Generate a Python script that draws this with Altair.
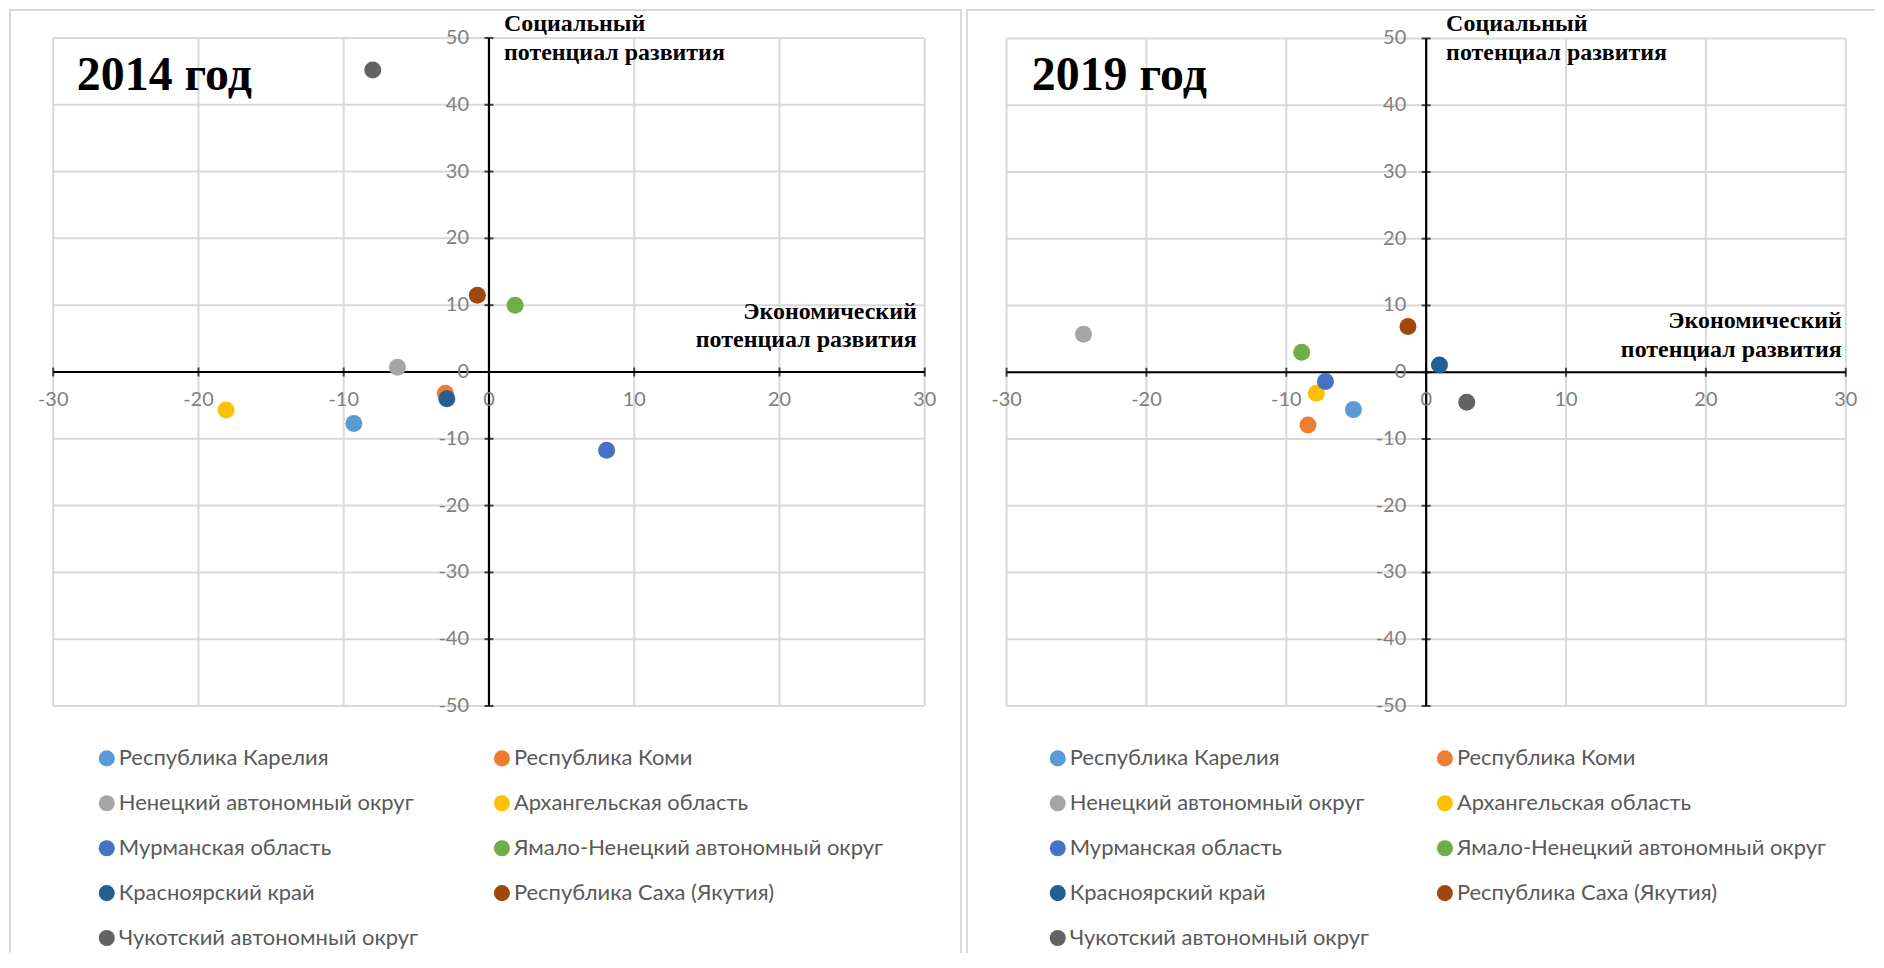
import altair as alt
import pandas as pd

regions = [
    "Республика Карелия",
    "Республика Коми",
    "Ненецкий автономный округ",
    "Архангельская область",
    "Мурманская область",
    "Ямало-Ненецкий автономный округ",
    "Красноярский край",
    "Республика Саха (Якутия)",
    "Чукотский автономный округ",
]
colors = ["#5B9BD5", "#ED7D31", "#A5A5A5", "#FFC000", "#4472C4",
          "#70AD47", "#255E91", "#9E480E", "#636363"]

econ_2014 = [-9.3, -3.0, -6.3, -18.1, 8.1, 1.8, -2.9, -0.8, -8.0]
soc_2014 = [-7.7, -3.2, 0.7, -5.7, -11.7, 10.0, -4.0, 11.5, 45.2]
econ_2019 = [-5.2, -8.45, -24.5, -7.85, -7.2, -8.9, 0.95, -1.3, 2.9]
soc_2019 = [-5.6, -7.9, 5.7, -3.15, -1.4, 3.0, 1.1, 6.85, -4.5]

x_ticks = [-30, -20, -10, 0, 10, 20, 30]
y_ticks = [-50, -40, -30, -20, -10, 0, 10, 20, 30, 40, 50]

H = 945
GRID = "#d9d9d9"
LABEL_FONT = "Lato"
SERIF = "Liberation Serif"


def panel(title, ex, so, W, x_rng, y_rng, title_x, leg_x, col_pad,
          soc_dx, econ_dx, econ_dys, right_edge):
    xs = alt.Scale(domain=[-30, 30], range=x_rng, nice=False, zero=False)
    ys = alt.Scale(domain=[-50, 50], range=y_rng, nice=False, zero=False)

    def X(f):
        return alt.X(f, type="quantitative", scale=xs, axis=None)

    def Y(f):
        return alt.Y(f, type="quantitative", scale=ys, axis=None)

    gx = pd.DataFrame({"t": x_ticks, "lbl": [str(v) for v in x_ticks],
                       "lo": -50, "hi": 50, "z": 0})
    gy = pd.DataFrame({"t": y_ticks, "lbl": [str(v) for v in y_ticks],
                       "lo": -30, "hi": 30, "z": 0})
    one = pd.DataFrame({"z": [0], "ylo": [-50], "yhi": [50], "xlo": [-30], "xhi": [30]})

    layers = []
    # frame
    frame = alt.Chart(one).mark_rule(color=GRID, strokeWidth=2)
    layers.append(frame.encode(x=alt.value(1), y=alt.value(0), y2=alt.value(H)))
    layers.append(frame.encode(x=alt.value(0), x2=alt.value(W), y=alt.value(0)))
    if right_edge:
        layers.append(frame.encode(x=alt.value(W - 1), y=alt.value(0), y2=alt.value(H)))

    # gridlines
    layers.append(alt.Chart(gx).mark_rule(color=GRID, strokeWidth=2).encode(
        x=X("t"), y=Y("lo"), y2="hi"))
    layers.append(alt.Chart(gy).mark_rule(color=GRID, strokeWidth=2).encode(
        y=Y("t"), x=X("lo"), x2="hi"))

    # axis lines
    layers.append(alt.Chart(one).mark_rule(color="black", strokeWidth=2.2).encode(
        x=X("z"), y=Y("ylo"), y2="yhi"))
    layers.append(alt.Chart(one).mark_rule(color="black", strokeWidth=2.2).encode(
        y=Y("z"), x=X("xlo"), x2="xhi"))

    # tick marks
    layers.append(alt.Chart(gx).mark_tick(color="black", orient="vertical",
                                          size=9, thickness=2).encode(
        x=X("t"), y=Y("z")))
    layers.append(alt.Chart(gy).mark_tick(color="black", orient="horizontal",
                                          size=9, thickness=2).encode(
        y=Y("t"), x=X("z")))

    # tick labels
    layers.append(alt.Chart(gx).mark_text(font=LABEL_FONT, fontSize=20, color="#808080",
                                          align="center", baseline="middle", dy=28).encode(
        x=X("t"), y=Y("z"), text="lbl:N"))
    layers.append(alt.Chart(gy).mark_text(font=LABEL_FONT, fontSize=20, color="#808080",
                                          align="right", baseline="middle", dx=-20).encode(
        y=Y("t"), x=X("z"), text="lbl:N"))

    # points
    pts = pd.DataFrame({"region": regions, "econ": ex, "soc": so})
    layers.append(alt.Chart(pts).mark_circle(size=290, opacity=1).encode(
        x=X("econ"), y=Y("soc"),
        color=alt.Color("region:N",
                        scale=alt.Scale(domain=regions, range=colors),
                        legend=alt.Legend(
                            title=None, orient="none", legendX=leg_x, legendY=739,
                            direction="horizontal",
                            columns=2, columnPadding=col_pad, rowPadding=23,
                            labelFont=LABEL_FONT, labelFontSize=22,
                            labelColor="#595959", symbolType="circle",
                            symbolSize=260, symbolStrokeWidth=0,
                            labelOffset=1, labelLimit=500, padding=0)),
    ))

    # annotations
    tdf = pd.DataFrame({"t": [title]})
    layers.append(alt.Chart(tdf).mark_text(font=SERIF, fontSize=48, fontWeight="bold",
                                           color="black", align="left",
                                           baseline="alphabetic").encode(
        x=alt.value(title_x), y=alt.value(80), text="t:N"))

    s1 = pd.DataFrame({"t": ["Социальный"], "x": [0], "y": [50]})
    s2 = pd.DataFrame({"t": ["потенциал развития"], "x": [0], "y": [50]})
    e1 = pd.DataFrame({"t": ["Экономический"], "x": [30], "y": [0]})
    e2 = pd.DataFrame({"t": ["потенциал развития"], "x": [30], "y": [0]})
    common = dict(font=SERIF, fontSize=24, fontWeight="bold", color="black",
                  baseline="middle")
    layers.append(alt.Chart(s1).mark_text(align="left", dx=soc_dx, dy=-14, **common).encode(
        x=X("x"), y=Y("y"), text="t:N"))
    layers.append(alt.Chart(s2).mark_text(align="left", dx=soc_dx, dy=15, **common).encode(
        x=X("x"), y=Y("y"), text="t:N"))
    layers.append(alt.Chart(e1).mark_text(align="right", dx=econ_dx, dy=econ_dys[0], **common).encode(
        x=X("x"), y=Y("y"), text="t:N"))
    layers.append(alt.Chart(e2).mark_text(align="right", dx=econ_dx, dy=econ_dys[1], **common).encode(
        x=X("x"), y=Y("y"), text="t:N"))

    return alt.layer(*layers).properties(width=W, height=H)


W1 = 955
W2 = 911
left = panel("2014 год", econ_2014, soc_2014, W1,
             [44.3, 917.7], [697.5, 28], 68, 87, 72,
             15, -8, (-60, -32), True)
right = panel("2019 год", econ_2019, soc_2019, W2,
              [40.7, 881.7], [697.5, 28.5], 66, 81, 64,
              20, -4, (-51, -22), False)

chart = alt.hconcat(left, right, spacing=2).resolve_scale(
    color="independent").resolve_legend(color="independent").properties(
    padding=0, background="white").configure_view(stroke=None)

chart.save("out.html", embed_options={"renderer": "svg", "actions": False})
